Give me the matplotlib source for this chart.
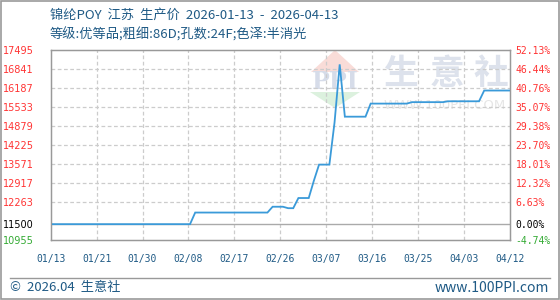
import matplotlib
matplotlib.use("Agg")
import matplotlib.pyplot as plt
import matplotlib.dates as mdates
from matplotlib.patches import Polygon, Rectangle
from matplotlib.lines import Line2D
import pandas as pd

# ---- data ----
dates = ["2026-01-13", "2026-02-09", "2026-02-10", "2026-02-24", "2026-02-25",
         "2026-02-27", "2026-02-28", "2026-03-01", "2026-03-02", "2026-03-04",
         "2026-03-05", "2026-03-06", "2026-03-08", "2026-03-09", "2026-03-10",
         "2026-03-11", "2026-03-15", "2026-03-16", "2026-03-23", "2026-03-24",
         "2026-03-30", "2026-03-31", "2026-04-06", "2026-04-07", "2026-04-12"]
prices = [11500, 11500, 11900, 11900, 12100,
          12100, 12050, 12050, 12400, 12400,
          13000, 13550, 13550, 15000, 17000,
          15200, 15200, 15650, 15650, 15700,
          15700, 15730, 15730, 16100, 16100]

ytick_values = [10955, 11500, 12263, 12917, 13571, 14225, 14879, 15533, 16187, 16841, 17495]
ytick_labels = ["10955", "11500", "12263", "12917", "13571", "14225", "14879", "15533", "16187", "16841", "17495"]
pct_labels = ["-4.74%", "0.00%", "6.63%", "12.32%", "18.01%", "23.70%", "29.38%", "35.07%", "40.76%", "46.44%", "52.13%"]
xtick_labels = ["01/13", "01/21", "01/30", "02/08", "02/17", "02/26", "03/07", "03/16", "03/25", "04/03", "04/12"]

title1 = "锦纶POY  江苏  生产价  2026-01-13  -  2026-04-13"
title2 = "等级:优等品;粗细:86D;孔数:24F;色泽:半消光"
footer_left = "©  2026.04  生意社"
footer_right = "www.100PPI.com"

# ---- style ----
W, H = 560, 300
RED = "#ff3333"
GREEN = "#33aa33"
NAVY = "#1f5a85"
LINE = "#3a9ad9"
GRAY = "#999999"
plt.rcParams['font.family'] = ['Noto Sans CJK SC', 'DejaVu Sans']

fig = plt.figure(figsize=(W / 100, H / 100), dpi=100)
fig.patch.set_facecolor("white")

def fx(x):
    return x / W

def fy(y):
    return 1 - y / H

L, R, T, B = 50.7, 510, 50, 240
ax = fig.add_axes([fx(L), fy(B), (R - L) / W, (B - T) / H])
ax.set_zorder(2)
ax.patch.set_visible(False)

# watermark (figure level, behind axes)
wm = dict(transform=fig.transFigure, zorder=0)
fig.patches.append(Polygon([(fx(335), fy(50)), (fx(311), fy(72)), (fx(359), fy(72))],
                           closed=True, facecolor="#f9dcd8", edgecolor="none", **wm))
fig.patches.append(Polygon([(fx(310), fy(92)), (fx(360), fy(92)), (fx(335), fy(108))],
                           closed=True, facecolor="#dcf1de", edgecolor="none", **wm))
fig.text(fx(335), fy(82), "PPI", ha="center", va="center", fontsize=17, fontweight="bold",
         color="#d6dce9", family="DejaVu Serif", zorder=0)
for cx, ch in zip([401, 447, 491], ["生", "意", "社"]):
    fig.text(fx(cx), fy(73), ch, ha="center", va="center", fontsize=25, fontweight="bold",
             color="#dde2ec", zorder=0)
fig.text(fx(445), fy(106), "WWW.100PPI.COM", ha="center", va="center", fontsize=9.5,
         color="#e6e6e6", family="DejaVu Sans", zorder=0)

x = pd.to_datetime(dates)
ax.plot(x, prices, color=LINE, lw=1.3, zorder=5, solid_joinstyle="miter")

start = mdates.date2num(pd.Timestamp("2026-01-13"))
end = mdates.date2num(pd.Timestamp("2026-04-12"))
ax.set_xlim(start, end)
ax.set_ylim(ytick_values[0], ytick_values[-1])
step = (end - start) / (len(xtick_labels) - 1)
xticks = [start + i * step for i in range(len(xtick_labels))]
ax.set_xticks(xticks)
ax.set_xticklabels(xtick_labels, family="DejaVu Sans Mono", fontsize=7, color=NAVY)
ax.set_yticks(ytick_values)
ax.set_yticklabels(ytick_labels, family="DejaVu Sans", fontsize=7)
ax.tick_params(axis="both", length=0)
ax.tick_params(axis="y", pad=12)
ax.tick_params(axis="x", pad=10)
for lbl, v in zip(ax.get_yticklabels(), ytick_values):
    lbl.set_color(GREEN if v == 10955 else ("black" if v == 11500 else RED))

# grid
for xt in xticks[1:-1]:
    ax.axvline(xt, color="#cccccc", lw=0.9, ls=(0, (3, 2)), zorder=1)
for v in ytick_values:
    if v == 11500:
        ax.axhline(v, color="#aaaaaa", lw=1.0, zorder=1)
    elif v not in (ytick_values[0], ytick_values[-1]):
        ax.axhline(v, color="#cccccc", lw=0.9, ls=(0, (3, 2)), zorder=1)

for s in ax.spines.values():
    s.set_color(GRAY)
    s.set_linewidth(1.0)

ax2 = ax.twinx()
ax2.set_ylim(ax.get_ylim())
ax2.set_yticks(ytick_values)
ax2.set_yticklabels(pct_labels, family="DejaVu Sans Mono", fontsize=7)
ax2.tick_params(axis="y", length=0, pad=4)
for lbl, v in zip(ax2.get_yticklabels(), ytick_values):
    lbl.set_color(GREEN if v == 10955 else ("black" if v == 11500 else RED))
for s in ax2.spines.values():
    s.set_color(GRAY)

# titles
fig.text(fx(50), fy(15), title1, ha="left", va="center", fontsize=9.5, color=NAVY)
fig.text(fx(50), fy(35), title2, ha="left", va="center", fontsize=9.5, color=NAVY)

# footer
fig.lines.append(Line2D([fx(10), fx(550)], [fy(278), fy(278)], transform=fig.transFigure,
                        color=GRAY, lw=1.0))
fig.text(fx(10), fy(288), footer_left, ha="left", va="center", fontsize=9.5, color=NAVY)
fig.text(fx(549), fy(288), footer_right, ha="right", va="center", fontsize=10, color=NAVY)

# outer frame
fig.patches.append(Rectangle((0.0009, 0.0017), 0.9982, 0.9966, transform=fig.transFigure,
                             fill=False, edgecolor=GRAY, lw=1.2))

fig.savefig("out.png", dpi=100, facecolor="white")
